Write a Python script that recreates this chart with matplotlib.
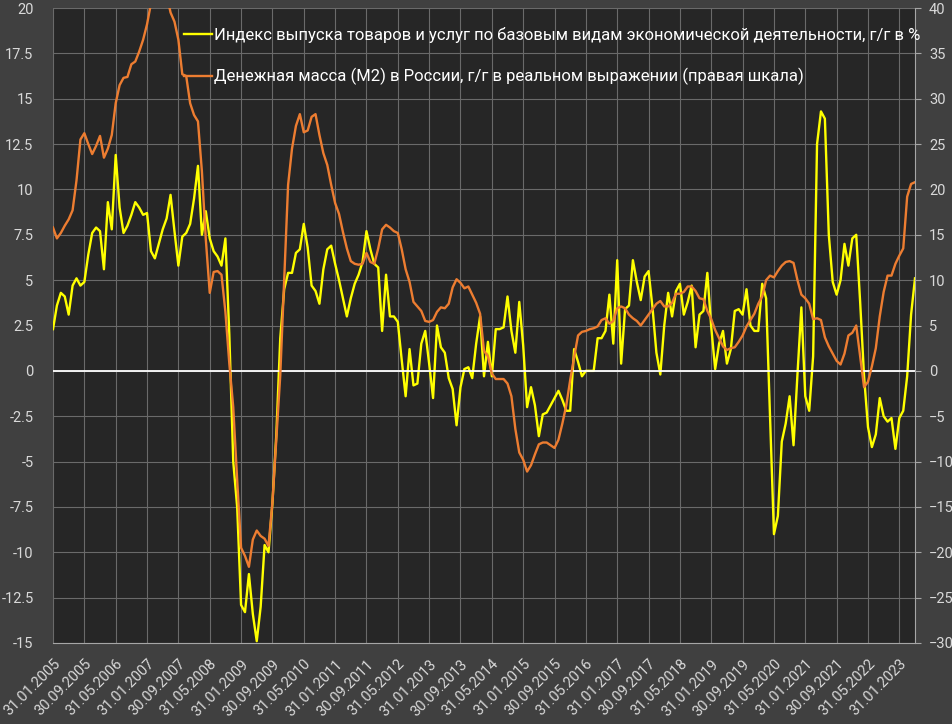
import numpy as np
import pandas as pd
import matplotlib
matplotlib.use("Agg")
import matplotlib.pyplot as plt

# monthly data, Jan 2005 .. May 2023
dates = pd.date_range("2005-01-31", periods=221, freq="ME")

# output index of basic sectors, y/y %
index_yoy = [
    2.3, 3.6, 4.3, 4.1, 3.1, 4.7, 5.1, 4.7, 4.9, 6.4, 7.6, 7.9,
    7.7, 5.6, 9.3, 7.8, 11.9, 9.0, 7.6, 8.0, 8.6, 9.3, 9.0, 8.6,
    8.7, 6.6, 6.2, 7.0, 7.8, 8.4, 9.7, 7.7, 5.8, 7.4, 7.6, 8.1,
    9.5, 11.3, 7.5, 8.8, 7.3, 6.6, 6.3, 5.8, 7.3, 2.0, -5.0, -7.5,
    -12.9, -13.3, -11.2, -13.4, -14.9, -13.0, -9.6, -10.0, -7.3, -3.5, 1.8, 4.5,
    5.4, 5.4, 6.5, 6.7, 8.1, 6.8, 4.7, 4.4, 3.7, 5.6, 6.7, 6.9,
    5.9, 5.0, 4.0, 3.0, 4.0, 4.8, 5.3, 6.0, 7.7, 6.7, 5.9, 5.7,
    2.2, 5.3, 3.0, 3.0, 2.7, 0.6, -1.4, 1.2, -0.8, -0.7, 1.5, 2.2,
    0.4, -1.5, 2.5, 1.3, 1.0, -0.4, -1.0, -3.0, -0.9, 0.1, 0.2, -0.4,
    1.5, 3.0, -0.3, 1.6, -0.3, 2.3, 2.3, 2.4, 4.1, 2.2, 1.0, 3.8,
    1.4, -2.0, -0.9, -1.9, -3.6, -2.4, -2.3, -1.9, -1.5, -1.1, -1.6, -2.2,
    -2.2, 1.2, 0.5, -0.3, 0.0, 0.0, 0.0, 1.8, 1.8, 2.2, 4.2, 1.5,
    6.1, 0.4, 3.4, 3.6, 6.1, 4.9, 3.9, 5.2, 5.5, 3.5, 1.0, -0.2,
    2.5, 4.3, 3.0, 4.4, 4.8, 3.1, 3.8, 4.7, 1.3, 3.1, 3.3, 5.4,
    2.4, 0.1, 1.5, 2.2, 0.4, 1.2, 3.3, 3.4, 3.1, 4.5, 2.5, 2.2,
    2.2, 4.8, 4.0, -2.5, -9.0, -8.0, -3.9, -2.9, -1.4, -4.1, -0.2, 3.5,
    -1.4, -2.2, 0.8, 12.5, 14.3, 13.9, 7.5, 4.9, 4.2, 5.0, 7.0, 5.8,
    7.3, 7.5, 3.8, -0.3, -3.1, -4.2, -3.5, -1.5, -2.5, -2.8, -2.6, -4.3,
    -2.6, -2.2, -0.3, 3.1, 5.1,
]

# M2 in real terms, y/y % (right axis)
m2_real = [
    15.8, 14.6, 15.2, 16.0, 16.7, 17.7, 21.0, 25.5, 26.2, 25.0, 23.9, 24.8,
    25.9, 23.5, 24.5, 26.0, 29.5, 31.5, 32.3, 32.4, 33.8, 34.1, 35.2, 36.5,
    38.2, 40.5, 42.5, 44.0, 43.0, 41.5, 39.5, 38.5, 36.5, 32.7, 32.5, 29.5,
    28.2, 27.5, 22.0, 14.5, 8.6, 10.9, 11.0, 10.6, 6.5, 0.8, -4.0, -12.0,
    -19.5, -20.4, -21.6, -18.6, -17.6, -18.2, -18.5, -19.3, -14.5, -7.5, -0.5, 10.0,
    20.5, 24.5, 27.0, 28.3, 26.3, 26.5, 28.0, 28.3, 26.0, 24.0, 22.7, 20.5,
    18.5, 17.3, 15.3, 13.5, 12.1, 11.8, 11.7, 11.8, 13.0, 12.0, 11.8, 13.5,
    15.6, 16.1, 15.8, 15.4, 15.2, 13.4, 11.2, 9.8, 7.6, 7.1, 6.6, 5.5,
    5.4, 5.6, 6.5, 7.0, 6.9, 7.4, 9.2, 10.1, 9.7, 9.1, 9.3, 8.4,
    7.5, 6.3, 2.2, 1.6, -0.3, -0.9, -0.9, -0.9, -1.4, -2.8, -6.4, -9.0,
    -9.8, -11.1, -10.4, -9.2, -8.1, -7.9, -7.9, -8.2, -8.5, -7.6, -5.8, -3.8,
    -1.0, 1.5, 3.9, 4.3, 4.4, 4.6, 4.7, 4.9, 5.6, 5.8, 5.2, 5.5,
    6.9, 7.1, 6.9, 6.2, 5.8, 5.5, 5.0, 5.6, 6.2, 6.8, 7.4, 7.7,
    7.1, 7.1, 7.5, 8.5, 8.5, 8.7, 9.3, 9.3, 8.8, 8.0, 7.9, 6.6,
    5.7, 4.5, 3.6, 2.7, 2.3, 2.5, 2.6, 3.2, 3.9, 4.9, 5.6, 6.3,
    7.4, 8.2, 10.0, 10.5, 10.3, 11.0, 11.6, 12.0, 12.1, 11.9, 10.0, 8.4,
    8.0, 7.4, 5.7, 5.8, 5.6, 3.7, 2.7, 1.9, 1.1, 0.7, 1.9, 3.9,
    4.2, 5.0, 1.6, -1.8, -1.2, 0.5, 2.5, 6.0, 8.7, 10.5, 10.5, 11.8,
    12.7, 13.5, 19.2, 20.6, 20.8,
]

label_index = "Индекс выпуска товаров и услуг по базовым видам экономической деятельности, г/г в %"
label_m2 = "Денежная масса (М2) в России, г/г в реальном выражении (правая шкала)"

plt.rcParams["font.family"] = ["Roboto", "DejaVu Sans"]

BG = "#404040"
PLOT_BG = "#262626"
GRID = "#6a6a6a"
TXT = "#d9d9d9"

x = np.arange(len(dates))
tick_pos = x[::8]
tick_lab = [d.strftime("%d.%m.%Y") for d in dates[::8]]

fig = plt.figure(figsize=(9.52, 7.24), dpi=100, facecolor=BG)
ax = fig.add_axes([53 / 952, 81 / 724, 862 / 952, 635 / 724])
ax.set_facecolor(PLOT_BG)
ax2 = ax.twinx()

l1, = ax.plot(x, index_yoy, color="#ffff00", lw=1.7, solid_joinstyle="round")
l2, = ax2.plot(x, m2_real, color="#ed7d31", lw=1.7, solid_joinstyle="round")

ax.set_xlim(0, len(x) - 1)
ax.set_ylim(-15, 20)
ax2.set_ylim(-30, 40)
ax.set_yticks(np.arange(-15, 20.1, 2.5))
ax.set_yticklabels([f"{v:g}" for v in np.arange(-15, 20.1, 2.5)])
ax2.set_yticks(np.arange(-30, 40.1, 5))

ax.set_xticks(tick_pos)
ax.set_xticklabels(tick_lab, rotation=45, ha="right", rotation_mode="anchor")

ax.grid(True, color=GRID, lw=0.8)
ax.axhline(0, color="white", lw=1.3, zorder=2)
ax.set_axisbelow(True)

for a in (ax, ax2):
    for s in a.spines.values():
        s.set_visible(False)
ax2.spines["right"].set_visible(True)
ax2.spines["right"].set_color("#a6a6a6")
ax.spines["bottom"].set_visible(True)
ax.spines["bottom"].set_color("#a6a6a6")

ax.tick_params(axis="y", length=0, pad=14, labelsize=10.5, labelcolor=TXT)
ax.tick_params(axis="x", length=0, pad=10, labelsize=10.5, labelcolor=TXT)
ax2.tick_params(axis="y", length=4, color="#a6a6a6", pad=6, labelsize=10.5, labelcolor=TXT)

leg = ax2.legend([l1, l2], [label_index, label_m2], loc="upper left",
                 bbox_to_anchor=(184 / 952, 1 - 27 / 724), bbox_transform=fig.transFigure,
                 frameon=False, fontsize=12, handlelength=1.7, handletextpad=0.1,
                 labelspacing=1.5, borderaxespad=0, borderpad=0)
for t in leg.get_texts():
    t.set_color("white")

fig.savefig("out.png", dpi=100, facecolor=BG)
